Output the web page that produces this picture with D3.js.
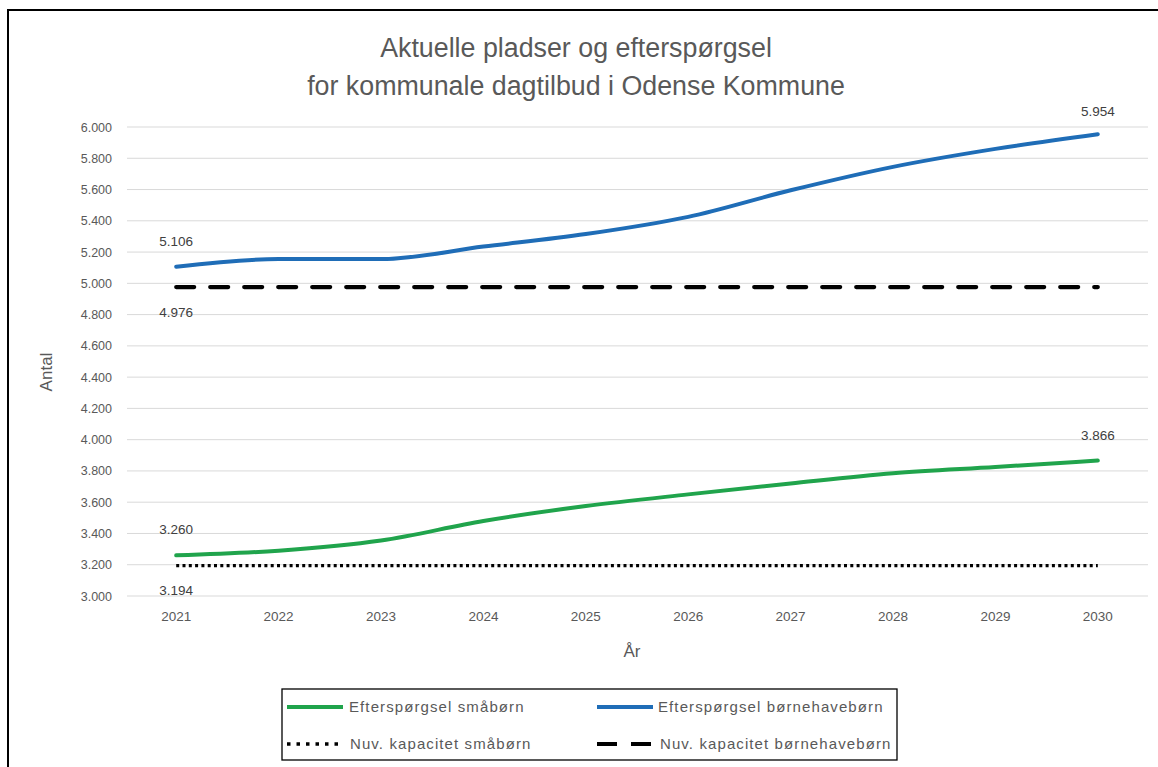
<!DOCTYPE html>
<html><head><meta charset="utf-8">
<script src="https://cdn.jsdelivr.net/npm/d3@7"></script>
<style>
html,body{margin:0;padding:0;background:#fff;}
svg{display:block;}
.f{font-family:"Liberation Sans Narrow","Arial Narrow","Liberation Sans",sans-serif;}
</style></head>
<body><svg id="c" width="1158" height="767"></svg>
<script>
const years = ["2021","2022","2023","2024","2025","2026","2027","2028","2029","2030"];
const smaaborn = [3260,3290,3355,3480,3575,3650,3720,3785,3825,3866];
const bornehave = [5106,5155,5155,5235,5315,5425,5595,5745,5860,5954];
const kapSmaa = [3194,3194,3194,3194,3194,3194,3194,3194,3194,3194];
const kapBorne = [4976,4976,4976,4976,4976,4976,4976,4976,4976,4976];
const yTicks = [3000,3200,3400,3600,3800,4000,4200,4400,4600,4800,5000,5200,5400,5600,5800,6000];
const titleLines = ["Aktuelle pladser og efterspørgsel","for kommunale dagtilbud i Odense Kommune"];
const seriesNames = ["Efterspørgsel småbørn","Efterspørgsel børnehavebørn","Nuv. kapacitet småbørn","Nuv. kapacitet børnehavebørn"];

const svg = d3.select("#c");
const fmt = v => d3.format(",")(v).replace(/,/g,".");

// outer frame
svg.append("rect").attr("x",8).attr("y",10).attr("width",1200).attr("height",800)
  .attr("fill","#fff").attr("stroke","#000").attr("stroke-width",2);

const x = d3.scaleBand().domain(years).range([125,1149]);
const y = d3.scaleLinear().domain([3000,6000]).range([596,127]);
const cx = d => x(d)+x.bandwidth()/2;

// gridlines
svg.append("g").selectAll("line").data(yTicks).join("line")
  .attr("x1",127).attr("x2",1148).attr("y1",d=>y(d)).attr("y2",d=>y(d))
  .attr("stroke","#d9d9d9").attr("stroke-width",1);

// y axis labels
const yAxis = svg.append("g").attr("class","f").attr("transform","translate(112,0)")
  .call(d3.axisLeft(y).tickValues(yTicks).tickFormat(fmt).tickSize(0).tickPadding(0));
yAxis.select(".domain").remove();
yAxis.selectAll("text").attr("fill","#595959").style("font-size","12.5px").attr("font-family",null);

// x axis labels
const xAxis = svg.append("g").attr("class","f").attr("transform","translate(0,611)")
  .call(d3.axisBottom(x).tickSize(0).tickPadding(0));
xAxis.select(".domain").remove();
xAxis.selectAll("text").attr("fill","#595959").style("font-size","13.5px").attr("font-family",null);

// titles
svg.append("g").selectAll("text").data(titleLines).join("text").attr("class","f")
  .attr("x",576).attr("y",(d,i)=>57+i*38).attr("text-anchor","middle")
  .attr("fill","#595959").style("font-size","26.8px").text(d=>d);

svg.append("text").attr("class","f").attr("x",632).attr("y",657).attr("text-anchor","middle")
  .attr("fill","#595959").style("font-size","17px").text("År");
svg.append("text").attr("class","f").attr("transform","translate(52,372) rotate(-90)")
  .attr("text-anchor","middle").attr("fill","#595959").style("font-size","17px").text("Antal");

const line = d3.line().x((d,i)=>cx(years[i])).y(d=>y(d)).curve(d3.curveMonotoneX);
const styles = [
  {data:smaaborn, color:"#20a44c", w:4, dash:null},
  {data:bornehave, color:"#1f6db7", w:4, dash:null},
  {data:kapSmaa, color:"#000", w:3.4, dash:"3,3.3"},
  {data:kapBorne, color:"#000", w:4.2, dash:"18,16"}
];
styles.forEach(s=>{
  svg.append("path").datum(s.data).attr("d",line).attr("fill","none")
    .attr("stroke",s.color).attr("stroke-width",s.w)
    .attr("stroke-dasharray",s.dash).attr("stroke-linecap",s.dash&&s.dash.startsWith("3")?"butt":"round");
});

// data labels
const labels = [
  {v:bornehave[0], i:0, dy:-21},
  {v:bornehave[9], i:9, dy:-18},
  {v:kapBorne[0], i:0, dy:30},
  {v:smaaborn[0], i:0, dy:-21},
  {v:smaaborn[9], i:9, dy:-21},
  {v:kapSmaa[0], i:0, dy:29}
];
svg.append("g").selectAll("text").data(labels).join("text").attr("class","f")
  .attr("x",d=>cx(years[d.i])).attr("y",d=>y(d.v)+d.dy).attr("text-anchor","middle")
  .attr("fill","#404040").style("font-size","13.5px").text(d=>fmt(d.v));

// legend
const lg = svg.append("g");
lg.append("rect").attr("x",282).attr("y",689).attr("width",615).attr("height",71)
  .attr("fill","#fff").attr("stroke","#000").attr("stroke-width",1.3);
const leg = [
  {name:seriesNames[0], s:styles[0], lx:287, tx:349, ly:707, dash:null},
  {name:seriesNames[1], s:styles[1], lx:597, tx:658, ly:707, dash:null},
  {name:seriesNames[2], s:styles[2], lx:287, tx:350, ly:744, dash:"3.5,6"},
  {name:seriesNames[3], s:styles[3], lx:597, tx:660, ly:744, dash:"20,14"}
];
leg.forEach((d,k)=>{
  lg.append("line").attr("x1",d.lx).attr("x2",d.lx+(k==3?54:(k==2?54:56))).attr("y1",d.ly).attr("y2",d.ly)
    .attr("stroke",d.s.color).attr("stroke-width",d.s.w)
    .attr("stroke-dasharray",d.dash);
  lg.append("text").attr("class","f").attr("x",d.tx).attr("y",d.ly+5)
    .attr("fill","#595959").style("font-size","15px").style("letter-spacing","1.1px").text(d.name);
});
</script></body></html>
